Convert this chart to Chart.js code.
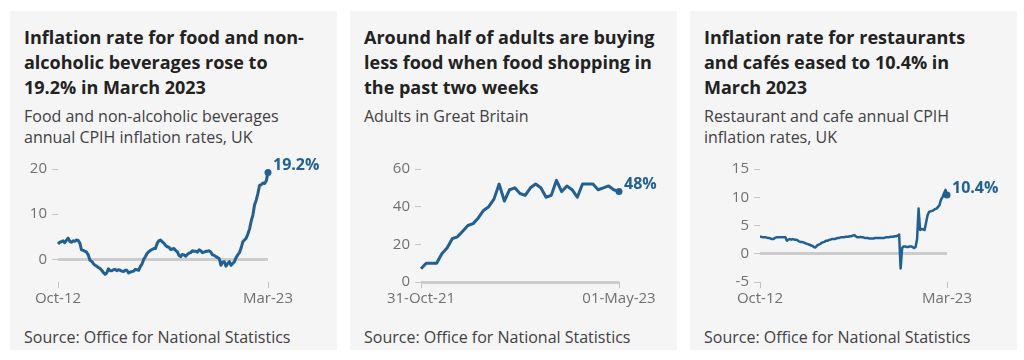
<!DOCTYPE html>
<html lang="en">
<head>
<meta charset="UTF-8">
<title>Food prices</title>
<script src="https://cdn.jsdelivr.net/npm/chart.js"></script>
<style>
  body { margin: 0; background: #fff; font-family: 'Open Sans', sans-serif; }
  .panel { position: absolute; top: 11px; width: 327px; height: 339px; background: #f5f5f5; }
  .title { position: absolute; left: 14px; top: 14px; white-space: nowrap;
           font-weight: 700; font-size: 18px; line-height: 25px; color: #222; }
  .sub { margin-top: 6px; font-weight: 400; font-size: 16px; line-height: 21px; color: #414042; }
  .source { position: absolute; left: 14px; top: 316px; font-size: 16px; line-height: 21px; color: #414042; white-space: nowrap; }
  canvas { position: absolute; left: 0; top: 139px; }
</style>
</head>
<body>
<div class="panel" style="left:10px">
  <div class="title">Inflation rate for food and non-<br>alcoholic beverages rose to<br>19.2% in March 2023
    <div class="sub">Food and non-alcoholic beverages<br>annual CPIH inflation rates, UK</div>
  </div>
  <canvas id="food" width="327" height="160"></canvas>
  <div class="source">Source: Office for National Statistics</div>
</div>
<div class="panel" style="left:350px">
  <div class="title">Around half of adults are buying<br>less food when food shopping in<br>the past two weeks
    <div class="sub">Adults in Great Britain</div>
  </div>
  <canvas id="adults" width="327" height="160"></canvas>
  <div class="source">Source: Office for National Statistics</div>
</div>
<div class="panel" style="left:690px">
  <div class="title">Inflation rate for restaurants<br>and cafés eased to 10.4% in<br>March 2023
    <div class="sub">Restaurant and cafe annual CPIH<br>inflation rates, UK</div>
  </div>
  <canvas id="restaurants" width="327" height="160"></canvas>
  <div class="source">Source: Office for National Statistics</div>
</div>
<script>
const BLUE = '#206095';

// monthly, Oct 2012 to Mar 2023
const monthNames = ['Jan','Feb','Mar','Apr','May','Jun','Jul','Aug','Sep','Oct','Nov','Dec'];
const months = [];
for (let y = 2012, m = 9; y < 2023 || m <= 2; m++) {
    if (m > 11) { m = 0; y++; }
    months.push(monthNames[m] + '-' + String(y).slice(2));
    if (y === 2023 && m === 2) break;
}
const monthTicks = ['Oct-12', 'Mar-23'];

const foodRates = [
    3.4, 3.8, 3.9, 4.1, 3.7, 4.2, 4.7, 4.0, 3.8, 4.1,
    4.0, 4.3, 4.2, 3.6, 2.1, 2.0, 1.8, 1.6, 1.0, -0.2,
    -0.4, -0.9, -1.3, -1.5, -1.8, -2.0, -2.4, -2.9, -3.3, -3.0,
    -2.1, -2.5, -2.5, -2.3, -2.2, -2.5, -2.3, -2.4, -2.6, -2.7,
    -2.4, -2.4, -3.0, -2.8, -2.7, -2.6, -2.2, -2.3, -2.4, -1.6,
    -1.0, 0.0, 0.6, 1.3, 1.7, 2.0, 2.2, 2.4, 2.4, 3.5,
    4.1, 4.3, 3.9, 3.6, 3.1, 2.8, 2.7, 2.2, 2.3, 2.4,
    2.0, 1.7, 0.9, 0.6, 1.1, 1.0, 0.7, 1.1, 1.4, 1.5,
    1.9, 1.8, 1.8, 1.6, 2.1, 1.9, 1.5, 1.6, 1.8, 1.8,
    1.9, 1.6, 1.0, 0.9, 0.6, 0.4, 0.2, -1.3, -0.6, -0.5,
    -1.5, -0.9, -0.5, -1.3, -0.9, -0.5, 0.4, 1.0, 1.5, 2.5,
    3.9, 4.3, 4.7, 5.6, 6.7, 8.5, 9.8, 12.1, 13.1, 14.6,
    16.4, 16.5, 16.9, 16.8, 17.4, 19.2
];
const foodTicks = [0, 10, 20];

const restaurantRates = [
    3.0, 3.0, 2.9, 2.9, 2.9, 2.8, 2.8, 2.7, 2.6, 2.6,
    2.8, 2.9, 2.9, 2.9, 2.9, 2.9, 2.9, 2.9, 2.3, 2.5,
    2.6, 2.5, 2.6, 2.5, 2.5, 2.4, 2.2, 2.1, 2.1, 2.0,
    1.9, 1.8, 1.7, 1.6, 1.5, 1.4, 1.2, 1.1, 1.4, 1.6,
    1.7, 1.9, 2.0, 2.1, 2.3, 2.3, 2.4, 2.5, 2.6, 2.6,
    2.6, 2.7, 2.8, 2.8, 2.9, 2.9, 2.9, 3.0, 3.0, 3.0,
    3.1, 3.1, 3.2, 3.3, 3.1, 2.9, 2.9, 3.0, 2.9, 2.9,
    2.8, 2.8, 2.8, 2.7, 2.7, 2.7, 2.7, 2.8, 2.8, 2.8,
    2.8, 2.8, 2.8, 2.8, 2.9, 2.9, 2.9, 3.0, 3.0, 3.0,
    3.1, 3.1, 3.2, 3.4, -2.6, 1.0, 1.3, 1.3, 1.2, 1.2,
    1.3, 1.3, 1.2, 1.0, 1.2, 2.6, 8.0, 4.2, 4.4, 4.3,
    4.2, 5.5, 6.8, 7.4, 7.5, 7.6, 7.7, 7.9, 8.0, 8.3,
    8.6, 9.6, 10.0, 10.7, 11.3, 10.4
];
const restaurantTicks = [-5, 0, 5, 10, 15];

// survey periods, 31 Oct 2021 to 1 May 2023
const adultsPeriods = ['31-Oct-21', ...Array(37).fill(''), '01-May-23'];
const adultsTicks = ['31-Oct-21', '01-May-23'];
const adultsBuyingLess = [
    7, 10, 10, 10, 15, 18, 23, 24, 27, 30,
    31, 34, 38, 40, 44, 52, 43, 49, 50, 47,
    46, 50, 52, 50, 45, 46, 54, 48, 51, 49,
    45, 52, 52, 52, 49, 50, 51, 49, 48
];
const adultsYTicks = [0, 20, 40, 60];

Chart.defaults.font.family = "'Open Sans', sans-serif";
Chart.defaults.font.size = 15;
Chart.defaults.color = '#707071';

const endLabel = {
    id: 'endLabel',
    afterDatasetsDraw(chart) {
        const meta = chart.getDatasetMeta(0);
        const pt = meta.data[meta.data.length - 1];
        const vals = chart.data.datasets[0].data;
        const ctx = chart.ctx;
        ctx.save();
        ctx.font = "bold 16px 'Open Sans'";
        ctx.fillStyle = BLUE;
        ctx.textBaseline = 'middle';
        ctx.fillText(vals[vals.length - 1] + '%', pt.x + 5, pt.y - 7);
        ctx.restore();
    }
};

function makeChart(id, labels, values, o) {
    const last = values.length - 1;
    return new Chart(document.getElementById(id), {
        type: 'line',
        data: {
            labels: labels,
            datasets: [{
                data: values,
                borderColor: BLUE,
                backgroundColor: BLUE,
                borderWidth: o.lw,
                borderJoinStyle: 'round',
                pointRadius: c => c.dataIndex === last ? 3.5 : 0,
                pointBorderWidth: 0,
                pointHoverRadius: 0,
                tension: 0,
                clip: false
            }]
        },
        options: {
            responsive: false,
            animation: false,
            events: [],
            layout: { padding: { top: 19, right: o.right, left: 0, bottom: 0 } },
            plugins: { legend: { display: false }, tooltip: { enabled: false } },
            scales: {
                x: {
                    offset: false,
                    afterBuildTicks: s => { s.ticks = [{ value: 0 }, { value: last }]; },
                    ticks: { autoSkip: false, maxRotation: 0, padding: 2, callback: (v, i) => o.xTicks[i] },
                    grid: { drawOnChartArea: false, tickLength: 6, tickColor: '#c4c4c4', tickWidth: 1 },
                    border: { display: false },
                    afterFit: s => { s.height = 28; }
                },
                y: {
                    min: o.min,
                    max: o.max,
                    afterBuildTicks: s => { s.ticks = o.yTicks.map(v => ({ value: v })); },
                    ticks: { padding: 5 },
                    grid: {
                        color: c => (c.tick && c.tick.value === 0) ? '#cccccc' : 'rgba(0,0,0,0)',
                        lineWidth: c => (c.tick && c.tick.value === 0) ? 3 : 1,
                        tickColor: '#c4c4c4',
                        tickWidth: 1,
                        tickLength: 6
                    },
                    border: { display: false },
                    afterFit: s => { s.width = o.left; }
                }
            }
        },
        plugins: [endLabel]
    });
}

makeChart('food', months, foodRates,
    { lw: 3, left: 48, right: 69, min: -5, max: 20, yTicks: foodTicks, xTicks: monthTicks });
makeChart('adults', adultsPeriods, adultsBuyingLess,
    { lw: 3, left: 71, right: 58, min: 0, max: 60, yTicks: adultsYTicks, xTicks: adultsTicks });
makeChart('restaurants', months, restaurantRates,
    { lw: 2.5, left: 70, right: 70, min: -5, max: 15, yTicks: restaurantTicks, xTicks: monthTicks });
</script>
</body>
</html>
